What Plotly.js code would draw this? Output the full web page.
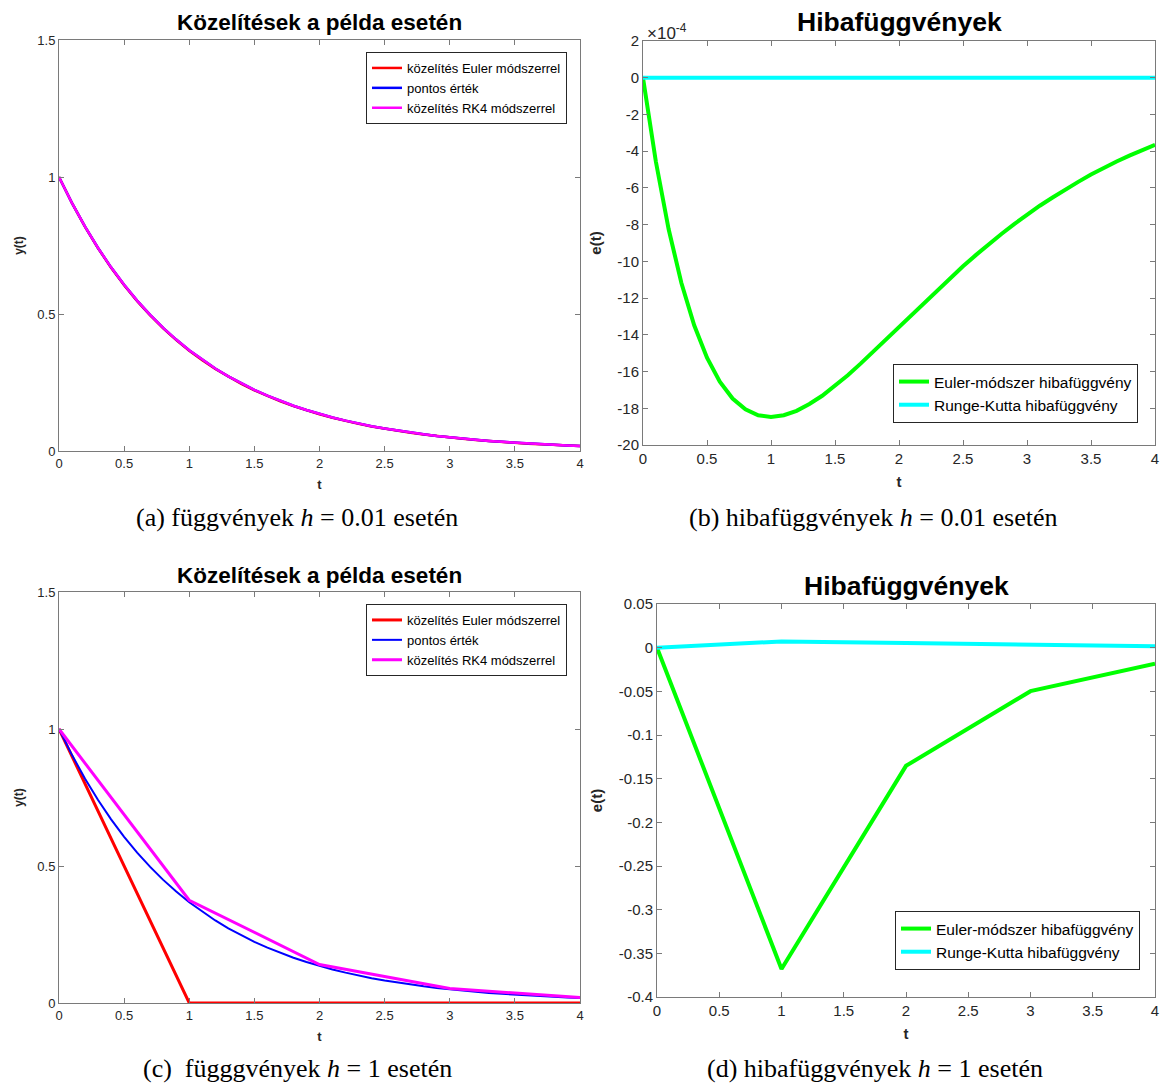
<!DOCTYPE html>
<html>
<head>
<meta charset="utf-8">
<script src="https://cdn.plot.ly/plotly-3.0.1.min.js"></script>
<style>
  html, body { margin: 0; padding: 0; background: #fff; }
  #chart { width: 1163px; height: 1083px; }
</style>
</head>
<body>
<div id="chart"></div>
<script>
// y' = -y, y(0) = 1 on [0, 4]

// Fine time grid (step 0.1) used for the smooth curves
const tFine = [0,0.1,0.2,0.3,0.4,0.5,0.6,0.7,0.8,0.9,1.0,1.1,1.2,1.3,1.4,1.5,1.6,1.7,1.8,1.9,2.0,
               2.1,2.2,2.3,2.4,2.5,2.6,2.7,2.8,2.9,3.0,3.1,3.2,3.3,3.4,3.5,3.6,3.7,3.8,3.9,4.0];

// exact solution
const exactY = [1,0.9048,0.8187,0.7408,0.6703,0.6065,0.5488,0.4966,0.4493,0.4066,0.3679,
                0.3329,0.3012,0.2725,0.2466,0.2231,0.2019,0.1827,0.1653,0.1496,0.1353,
                0.1225,0.1108,0.1003,0.0907,0.0821,0.0743,0.0672,0.0608,0.0550,0.0498,
                0.0450,0.0408,0.0369,0.0334,0.0302,0.0273,0.0247,0.0224,0.0202,0.0183];

// h = 0.01 : Euler and RK4 approximations
const eulerY001 = [1,0.9044,0.8179,0.7397,0.6690,0.6050,0.5472,0.4948,0.4475,0.4047,0.3660,
                   0.3310,0.2994,0.2708,0.2449,0.2215,0.2003,0.1811,0.1638,0.1481,0.1340,
                   0.1212,0.1096,0.0991,0.0896,0.0811,0.0733,0.0663,0.0600,0.0542,0.0490,
                   0.0444,0.0401,0.0363,0.0328,0.0297,0.0268,0.0243,0.0220,0.0199,0.0180];
const rk4Y001 = [1,0.9048,0.8187,0.7408,0.6703,0.6065,0.5488,0.4966,0.4493,0.4066,0.3679,
                 0.3329,0.3012,0.2725,0.2466,0.2231,0.2019,0.1827,0.1653,0.1496,0.1353,
                 0.1225,0.1108,0.1003,0.0907,0.0821,0.0743,0.0672,0.0608,0.0550,0.0498,
                 0.0450,0.0408,0.0369,0.0334,0.0302,0.0273,0.0247,0.0224,0.0202,0.0183];

// h = 0.01 : error functions, in units of 1e-4
const eulerErr001 = [0,-4.55,-8.24,-11.18,-13.48,-15.25,-16.55,-17.47,-18.06,-18.38,-18.47,
                     -18.38,-18.14,-17.77,-17.32,-16.78,-16.20,-15.57,-14.91,-14.24,-13.55,
                     -12.88,-12.20,-11.55,-10.89,-10.27,-9.66,-9.07,-8.51,-7.97,-7.46,
                     -6.97,-6.52,-6.08,-5.67,-5.27,-4.90,-4.56,-4.24,-3.93,-3.65];
const rk4Err001 = [0,0,0,0,0,0,0,0,0,0,0,0,0,0,0,0,0,0,0,0,0,
                   0,0,0,0,0,0,0,0,0,0,0,0,0,0,0,0,0,0,0,0];

// h = 1 : coarse grid
const tCoarse = [0,1,2,3,4];
const eulerY1 = [1,0,0,0,0];
const rk4Y1 = [1,0.375,0.1406,0.0527,0.0198];
const eulerErr1 = [0,-0.3679,-0.1353,-0.0498,-0.0183];
const rk4Err1 = [0,0.0071,0.0053,0.0029,0.0015];

// tick values
const tTicks = [0,0.5,1,1.5,2,2.5,3,3.5,4];
const yTicksFunc = [0,0.5,1,1.5];
const yTicksErr001 = [-20,-18,-16,-14,-12,-10,-8,-6,-4,-2,0,2];
const yTicksErr1 = [-0.4,-0.35,-0.3,-0.25,-0.2,-0.15,-0.1,-0.05,0,0.05];
const yTickTextErr1 = ['-0.4','-0.35','-0.3','-0.25','-0.2','-0.15','-0.1','-0.05','0','0.05'];

// labels
const titleApprox = 'Közelítések a példa esetén';
const titleErr = 'Hibafüggvények';
const nameEuler = 'közelítés Euler módszerrel';
const nameExact = 'pontos érték';
const nameRK4 = 'közelítés RK4 módszerrel';
const nameEulerErr = 'Euler-módszer hibafüggvény';
const nameRK4Err = 'Runge-Kutta hibafüggvény';
const captions = [
  '(a) függvények <i>h</i> = 0.01 esetén',
  '(b) hibafüggvények <i>h</i> = 0.01 esetén',
  '(c)  függgvények <i>h</i> = 1 esetén',
  '(d) hibafüggvények <i>h</i> = 1 esetén'
];

const W = 1163, H = 1083;
const px = v => v / W;
const py = v => 1 - v / H;

const RED = '#ff0000', BLUE = '#0000ff', MAG = '#ff00ff', GREEN = '#00ff00', CYAN = '#00ffff';
const SANS = 'Liberation Sans, Arial, sans-serif';
const SERIF = 'Liberation Serif, Times New Roman, serif';
const AX = '#7a7a7a';

function line(x, y, name, color, width, xa, ya, legend) {
  return { x, y, name, type: 'scatter', mode: 'lines',
           line: { color, width }, xaxis: xa, yaxis: ya, legend, hoverinfo: 'skip' };
}

const traces = [
  line(tFine, eulerY001, nameEuler, RED, 2.5, 'x', 'y', 'legend'),
  line(tFine, exactY, nameExact, BLUE, 2.5, 'x', 'y', 'legend'),
  line(tFine, rk4Y001, nameRK4, MAG, 2.5, 'x', 'y', 'legend'),

  line(tFine, eulerErr001, nameEulerErr, GREEN, 4, 'x2', 'y2', 'legend2'),
  line(tFine, rk4Err001, nameRK4Err, CYAN, 4, 'x2', 'y2', 'legend2'),

  line(tCoarse, eulerY1, nameEuler, RED, 3, 'x3', 'y3', 'legend3'),
  line(tFine, exactY, nameExact, BLUE, 2, 'x3', 'y3', 'legend3'),
  line(tCoarse, rk4Y1, nameRK4, MAG, 3, 'x3', 'y3', 'legend3'),

  line(tCoarse, eulerErr1, nameEulerErr, GREEN, 4, 'x4', 'y4', 'legend4'),
  line(tCoarse, rk4Err1, nameRK4Err, CYAN, 4, 'x4', 'y4', 'legend4')
];

function xAxis(domain, anchor, fs, titleSize, standoff) {
  return {
    domain, anchor, range: [0, 4], tickvals: tTicks, ticktext: tTicks.map(String),
    showline: true, mirror: 'ticks', linecolor: AX, linewidth: 1,
    ticks: 'inside', ticklen: 5, tickcolor: AX, showgrid: false, zeroline: false,
    tickfont: { family: SANS, size: fs, color: '#262626' },
    title: { text: '<b>t</b>', font: { family: SANS, size: titleSize, color: '#262626' }, standoff },
    fixedrange: true
  };
}
function yAxis(domain, anchor, range, vals, text, fs, title, titleSize, standoff) {
  return {
    domain, anchor, range, tickvals: vals, ticktext: text,
    showline: true, mirror: 'ticks', linecolor: AX, linewidth: 1,
    ticks: 'inside', ticklen: 5, tickcolor: AX, showgrid: false, zeroline: false,
    tickfont: { family: SANS, size: fs, color: '#262626' },
    title: { text: '<b>' + title + '</b>', font: { family: SANS, size: titleSize, color: '#262626' }, standoff },
    fixedrange: true
  };
}
function legendAt(x, y, yanchor, fs) {
  return {
    x, y, xanchor: 'right', yanchor, xref: 'paper', yref: 'paper',
    bgcolor: '#ffffff', bordercolor: '#262626', borderwidth: 1,
    font: { family: SANS, size: fs, color: '#000' },
    tracegroupgap: 0, itemwidth: 30
  };
}
function note(text, x, y, size, family, color) {
  return { text, x, y, xref: 'paper', yref: 'paper', xanchor: 'center', yanchor: 'middle',
           showarrow: false, font: { family, size, color } };
}

const domA = { x: [px(59), px(580)], y: [py(451), py(40)] };
const domB = { x: [px(643), px(1155)], y: [py(445), py(41)] };
const domC = { x: [px(59), px(580)], y: [py(1003), py(592)] };
const domD = { x: [px(657), px(1155)], y: [py(997), py(604)] };
const mid = d => (d.x[0] + d.x[1]) / 2;

const layout = {
  width: W, height: H,
  margin: { l: 0, r: 0, t: 0, b: 0 },
  paper_bgcolor: '#ffffff', plot_bgcolor: '#ffffff',
  font: { family: SANS },
  showlegend: true,
  xaxis: xAxis(domA.x, 'y', 13, 13, 10),
  yaxis: yAxis(domA.y, 'x', [0, 1.5], yTicksFunc, yTicksFunc.map(String), 13, 'y(t)', 12, 11),
  xaxis2: xAxis(domB.x, 'y2', 15, 15, 10),
  yaxis2: yAxis(domB.y, 'x2', [-20, 2], yTicksErr001, yTicksErr001.map(String), 15, 'e(t)', 15, 12),
  xaxis3: xAxis(domC.x, 'y3', 13, 13, 10),
  yaxis3: yAxis(domC.y, 'x3', [0, 1.5], yTicksFunc, yTicksFunc.map(String), 13, 'y(t)', 12, 11),
  xaxis4: xAxis(domD.x, 'y4', 15, 15, 10),
  yaxis4: yAxis(domD.y, 'x4', [-0.4, 0.05], yTicksErr1, yTickTextErr1, 15, 'e(t)', 15, 12),
  legend: legendAt(px(567), py(52), 'top', 13),
  legend2: legendAt(px(1138), py(423), 'bottom', 15.5),
  legend3: legendAt(px(567), py(604), 'top', 13),
  legend4: legendAt(px(1140), py(970), 'bottom', 15.5),
  annotations: [
    note('<b>' + titleApprox + '</b>', mid(domA), py(22), 22.5, SANS, '#000'),
    note('<b>' + titleErr + '</b>', mid(domB), py(22), 26.5, SANS, '#000'),
    note('<b>' + titleApprox + '</b>', mid(domC), py(575), 22.5, SANS, '#000'),
    note('<b>' + titleErr + '</b>', mid(domD), py(586), 26.5, SANS, '#000'),
    Object.assign(note('×10<sup>-4</sup>', px(645), py(32), 17, SANS, '#262626'), { xanchor: 'left' }),
    note(captions[0], px(297), py(517), 26, SERIF, '#000'),
    note(captions[1], px(873), py(517), 26, SERIF, '#000'),
    note(captions[2], px(297), py(1068), 26, SERIF, '#000'),
    note(captions[3], px(875), py(1068), 26, SERIF, '#000')
  ]
};

Plotly.newPlot('chart', traces, layout, { staticPlot: true, displayModeBar: false });
</script>
</body>
</html>
